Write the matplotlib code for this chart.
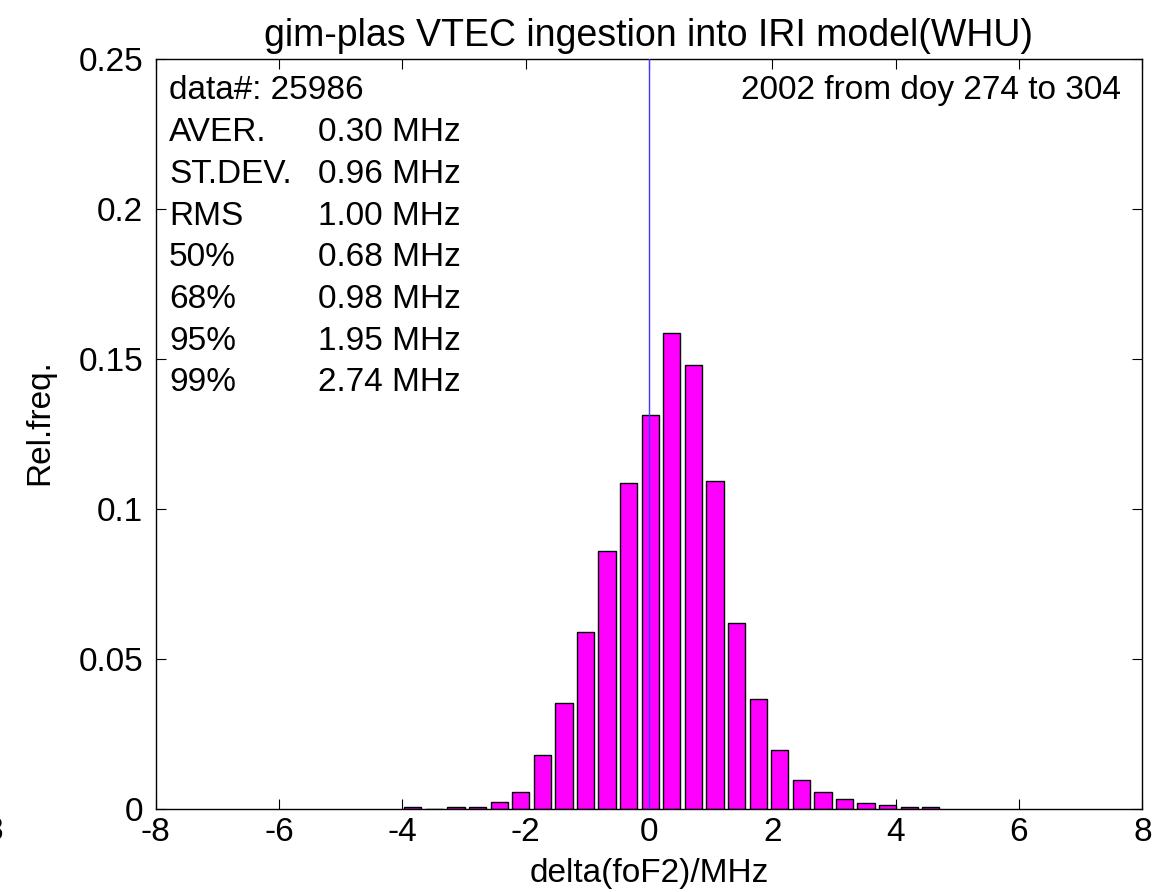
import matplotlib
matplotlib.use("Agg")
import matplotlib.pyplot as plt

plt.rcParams['font.family'] = ['Liberation Sans', 'DejaVu Sans']
plt.rcParams['axes.unicode_minus'] = False

# bin centres (MHz) and relative frequencies
bin_centers = [-3.83, -3.48, -3.13, -2.78, -2.43, -2.08, -1.73, -1.38, -1.03,
               -0.68, -0.33, 0.02, 0.37, 0.72, 1.07, 1.42, 1.77, 2.12, 2.47,
               2.82, 3.17, 3.52, 3.87, 4.22, 4.57]
rel_freq = [0.0008, 0.0, 0.0007, 0.0007, 0.0024, 0.0058, 0.0179, 0.0354, 0.0589,
            0.0859, 0.1087, 0.1313, 0.1586, 0.1479, 0.1093, 0.0620, 0.0368, 0.0196,
            0.0096, 0.0058, 0.0032, 0.0020, 0.0012, 0.0008, 0.0007]

xticks = [-8, -6, -4, -2, 0, 2, 4, 6, 8]
yticks = [0, 0.05, 0.1, 0.15, 0.2, 0.25]
ytick_labels = ['0', '0.05', '0.1', '0.15', '0.2', '0.25']

stat_names = ['AVER.', 'ST.DEV.', 'RMS', '50%', '68%', '95%', '99%']
stat_values = ['0.30 MHz', '0.96 MHz', '1.00 MHz', '0.68 MHz', '0.98 MHz',
               '1.95 MHz', '2.74 MHz']
n_data = 25986
period = '2002 from doy 274 to 304'

fig = plt.figure(figsize=(11.66, 8.92), dpi=100)
ax = fig.add_axes([0.1335, 0.0930, 0.9797 - 0.1335, 0.9339 - 0.0930])

ax.bar(bin_centers, rel_freq, width=0.28, color='#ff00ff', edgecolor='k',
       linewidth=1.0, zorder=2)
ax.axvline(0, color='#3a3aff', lw=1.0, zorder=3)

ax.set_xlim(-8, 8)
ax.set_ylim(0, 0.25)
ax.set_xticks(xticks)
ax.set_xticklabels([str(t) for t in xticks])
ax.set_yticks(yticks)
ax.set_yticklabels(ytick_labels)
ax.tick_params(direction='in', length=7, width=0.8, top=True, right=True,
               labelsize=24)
ax.tick_params(axis='x', pad=6)
ax.tick_params(axis='y', pad=9)
for s in ax.spines.values():
    s.set_linewidth(1.0)

ax.set_title('gim-plas VTEC ingestion into IRI model(WHU)', fontsize=27, pad=9)
ax.set_xlabel('delta(foF2)/MHz', fontsize=24, labelpad=7)
ax.set_ylabel('Rel.freq.', fontsize=24)
ax.yaxis.set_label_coords(-0.102, 0.516)

# statistics block
fs = 24
x_name = 0.0135
x_val = 0.1645
y0 = (809 - 91) / 750
dy = 41.7 / 750
ax.text(x_name, y0, 'data#: %d' % n_data, transform=ax.transAxes,
        fontsize=fs, va='center', ha='left')
for i, (nm, v) in enumerate(zip(stat_names, stat_values)):
    y = y0 - (i + 1) * dy
    ax.text(x_name, y, nm, transform=ax.transAxes, fontsize=fs,
            va='center', ha='left')
    ax.text(x_val, y, v, transform=ax.transAxes, fontsize=fs,
            va='center', ha='left')

ax.text(0.978, y0, period, transform=ax.transAxes, fontsize=fs,
        va='center', ha='right')

# stray tick label from a neighbouring panel, cut at the left edge
fig.text(0.0026, 1 - 831 / 892, '8', fontsize=24, ha='right', va='center')

fig.savefig('out.png', dpi=100)
